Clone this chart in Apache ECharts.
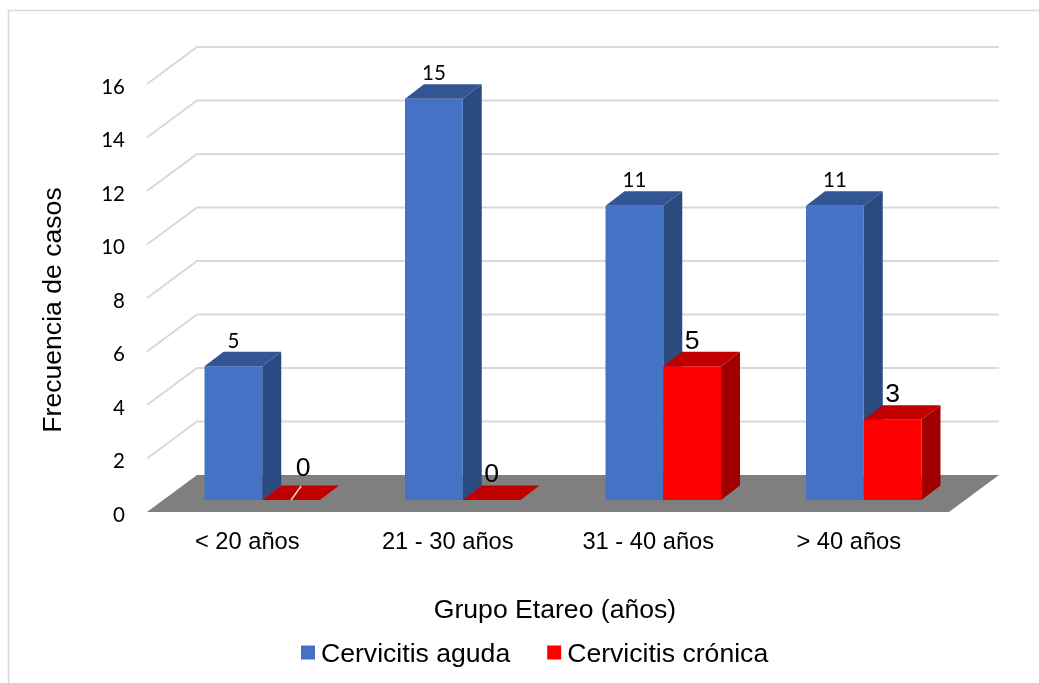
<!DOCTYPE html>
<html>
<head>
<meta charset="utf-8">
<style>html,body{margin:0;padding:0;background:#fff}#chart{width:1039px;height:683px}</style>
<script src="https://cdn.jsdelivr.net/npm/echarts@6/dist/echarts.min.js"></script>
</head>
<body>
<div id="chart"></div>
<script>
const categories = ['< 20 años', '21 - 30 años', '31 - 40 años', '> 40 años'];
const aguda = [5, 15, 11, 11];
const cronica = [0, 0, 5, 3];
const wallTicks = [2, 4, 6, 8, 10, 12, 14, 16];

// Oblique projection offsets, in pixels, of the fake 3D box
const FLOOR_DX = 50, FLOOR_DY = 37;
const BAR_INSET_DX = 15, BAR_INSET_DY = 12;
const BAR_DX = 19, BAR_DY = 14.5;
const BAR_WIDTH_RATIO = 0.288;

const ARIAL = '"Liberation Sans", Arial, sans-serif';
const CALIBRI = 'Lato, Carlito, Calibri, sans-serif';

function poly(points, fill) {
  return { type: 'polygon', shape: { points }, style: { fill, stroke: null } };
}

function barRenderer(side, colors, labelFont) {
  return function (params, api) {
    const idx = api.value(0), val = api.value(1);
    const center = api.coord([idx, 0]);
    const bw = api.size([1, 0])[0] * BAR_WIDTH_RATIO;
    const base = center[1] - BAR_INSET_DY;
    const top = api.coord([idx, val])[1] - BAR_INSET_DY;
    const x0 = center[0] + BAR_INSET_DX + (side < 0 ? -bw : 0);
    const x1 = x0 + bw;
    const children = [];
    if (val > 0) {
      children.push(poly([[x1, base], [x1 + BAR_DX, base - BAR_DY], [x1 + BAR_DX, top - BAR_DY], [x1, top]], colors.side));
      children.push(poly([[x0, base], [x1, base], [x1, top], [x0, top]], colors.front));
    }
    children.push(poly([[x0, top], [x1, top], [x1 + BAR_DX, top - BAR_DY], [x0 + BAR_DX, top - BAR_DY]], colors.top));

    // The first zero label sits off its bar, tied back by a short leader
    const shifted = side > 0 && idx === 0;
    const mid = (x0 + x1) / 2;
    if (shifted) {
      children.push({
        type: 'line',
        shape: { x1: mid + 10, y1: base - 14, x2: mid, y2: base },
        style: { stroke: '#d9d9d9', lineWidth: 1.5 }
      });
    }
    children.push({
      type: 'text',
      style: {
        x: mid + (shifted ? 12 : 0),
        y: top - (shifted ? 31 : 25),
        text: String(val),
        font: labelFont,
        fill: '#000',
        align: 'center',
        verticalAlign: 'middle'
      }
    });
    return { type: 'group', children };
  };
}

const chart = echarts.init(document.getElementById('chart'), null, { renderer: 'canvas' });
chart.setOption({
  animation: false,
  backgroundColor: '#fff',
  graphic: [{
    type: 'polyline',
    shape: { points: [[8.5, 700], [8.5, 10.5], [1050, 10.5]] },
    style: { stroke: '#d9d9d9', lineWidth: 1.5, fill: null },
    silent: true
  }],
  grid: { left: 147, top: 84, width: 802, height: 428, containLabel: false },
  legend: {
    left: 301, top: 641, padding: 0,
    itemWidth: 14, itemHeight: 14, itemGap: 37,
    selectedMode: false,
    formatter: '{t|{name}}',
    textStyle: {
      color: '#000',
      rich: { t: { fontFamily: ARIAL, fontSize: 26.6, color: '#000', padding: [4, 0, 0, 1] } }
    },
    data: [
      { name: 'Cervicitis aguda', icon: 'rect', itemStyle: { color: '#4472c4' } },
      { name: 'Cervicitis crónica', icon: 'rect', itemStyle: { color: '#ff0000' } }
    ]
  },
  xAxis: {
    type: 'category',
    data: categories,
    axisLine: { show: false },
    axisTick: { show: false },
    axisLabel: { fontFamily: ARIAL, fontSize: 23.7, color: '#000', margin: 18 },
    name: 'Grupo Etareo (años)',
    nameLocation: 'middle',
    nameGap: 85,
    nameTextStyle: { fontFamily: ARIAL, fontSize: 26.6, color: '#000', padding: [0, 0, 0, 14] }
  },
  yAxis: {
    type: 'value',
    min: 0, max: 16, interval: 2,
    splitLine: { show: false },
    axisLine: { show: false },
    axisTick: { show: false },
    axisLabel: {
      color: '#000', margin: 22,
      formatter: '{n|{value}}',
      rich: { n: { fontFamily: CALIBRI, fontSize: 20.5, color: '#000', padding: [6, 0, 0, 0] } }
    },
    name: 'Frecuencia de casos',
    nameLocation: 'middle',
    nameGap: 80,
    nameTextStyle: { fontFamily: ARIAL, fontSize: 26.6, color: '#000', padding: [0, 24, 0, 0] }
  },
  series: [
    {
      type: 'custom',
      name: 'wall',
      silent: true,
      z: 1,
      data: wallTicks.map(v => [0, v]),
      encode: { x: 0, y: 1 },
      renderItem(params, api) {
        const g = params.coordSys;
        const y = api.coord([0, api.value(1)])[1];
        return {
          type: 'polyline',
          shape: { points: [[g.x, y], [g.x + FLOOR_DX, y - FLOOR_DY], [g.x + g.width + FLOOR_DX, y - FLOOR_DY]] },
          style: { stroke: '#d9d9d9', lineWidth: 2, fill: null }
        };
      }
    },
    {
      type: 'custom',
      name: 'floor',
      silent: true,
      z: 2,
      data: [[0, 0]],
      encode: { x: 0, y: 1 },
      renderItem(params, api) {
        const g = params.coordSys;
        const y = api.coord([0, 0])[1];
        return poly([[g.x, y], [g.x + g.width, y], [g.x + g.width + FLOOR_DX, y - FLOOR_DY], [g.x + FLOOR_DX, y - FLOOR_DY]], '#7f7f7f');
      }
    },
    {
      type: 'custom',
      name: 'Cervicitis aguda',
      z: 3,
      itemStyle: { color: '#4472c4' },
      data: aguda.map((v, i) => [i, v]),
      encode: { x: 0, y: 1 },
      renderItem: barRenderer(-1, { front: '#4472c4', top: '#335593', side: '#2a4a80' }, '20.5px ' + CALIBRI)
    },
    {
      type: 'custom',
      name: 'Cervicitis crónica',
      z: 4,
      itemStyle: { color: '#ff0000' },
      data: cronica.map((v, i) => [i, v]),
      encode: { x: 0, y: 1 },
      renderItem: barRenderer(1, { front: '#ff0000', top: '#c00000', side: '#a00000' }, '26.6px ' + ARIAL)
    }
  ]
});
</script>
</body>
</html>
